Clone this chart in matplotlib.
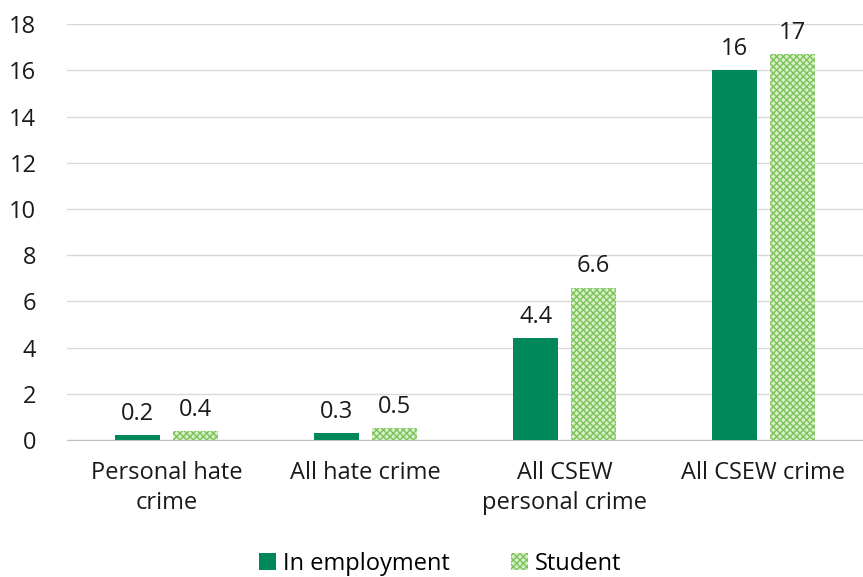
import numpy as np
import matplotlib.pyplot as plt

plt.rcParams['font.family'] = ['Open Sans', 'DejaVu Sans']
plt.rcParams['hatch.linewidth'] = 1.0

categories = ["Personal hate\ncrime", "All hate crime", "All CSEW\npersonal crime", "All CSEW crime"]
employment = [0.2, 0.3, 4.4, 16.0]
student = [0.4, 0.5, 6.6, 16.7]
employment_labels = ["0.2", "0.3", "4.4", "16"]
student_labels = ["0.4", "0.5", "6.6", "17"]

green = '#00875a'
light = '#7cc35a'
txt = '#1a1a1a'
fs = 17

fig = plt.figure(figsize=(8.63, 5.77), dpi=100)
ax = fig.add_axes([0.0776, 0.2374, 0.9224, 0.7206])

x = np.arange(len(categories))
w = 0.226
b1 = ax.bar(x - 0.145, employment, w, color=green, label='In employment', zorder=3)
b2 = ax.bar(x + 0.145, student, w, facecolor='#d8efc9', edgecolor=light, hatch='xxxxx',
            linewidth=0, label='Student', zorder=3)

for bars, labs in ((b1, employment_labels), (b2, student_labels)):
    for r, t in zip(bars, labs):
        ax.text(r.get_x() + r.get_width() / 2, r.get_height() + 0.4, t,
                ha='center', va='bottom', fontsize=fs, color=txt)

ax.set_xlim(-0.5, 3.5)
ax.set_ylim(0, 18)
ax.set_yticks(range(0, 19, 2))
ax.set_xticks(x)
ax.set_xticklabels(categories, fontsize=fs, color=txt, linespacing=1.35)
ax.tick_params(axis='y', labelsize=fs, colors=txt, length=0, pad=22)
ax.tick_params(axis='x', length=0, pad=15)
ax.grid(axis='y', color='#d9d9d9', linewidth=1, zorder=0)
for s in ['top', 'right', 'left']:
    ax.spines[s].set_visible(False)
ax.spines['bottom'].set_color('#bfbfbf')

fig.legend(handles=[b1, b2], loc='lower center', bbox_to_anchor=(0.51, -0.035), ncol=2,
           frameon=False, fontsize=fs, handlelength=0.7, handleheight=0.7,
           handletextpad=0.3, columnspacing=2.6)

fig.savefig('out.png', dpi=100)
